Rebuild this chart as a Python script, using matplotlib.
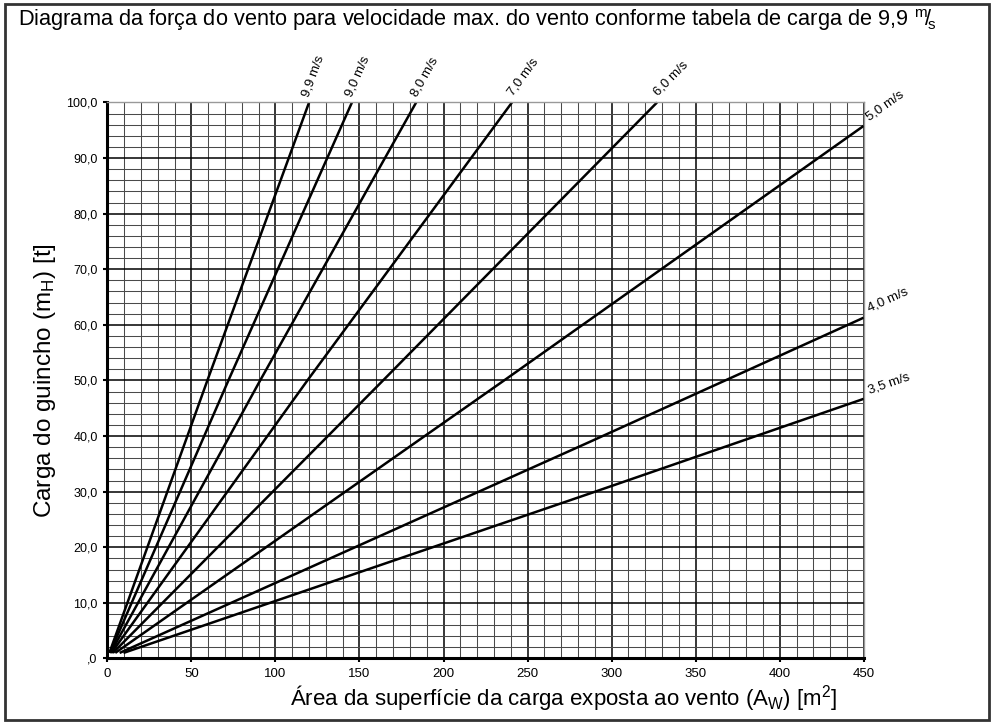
import math
import matplotlib
matplotlib.use('Agg')
import matplotlib.pyplot as plt
from matplotlib.ticker import MultipleLocator, FuncFormatter
from matplotlib.patches import Rectangle

FONTE = ['Liberation Sans', 'DejaVu Sans']

velocidades = ['9,9 m/s', '9,0 m/s', '8,0 m/s', '7,0 m/s', '6,0 m/s', '5,0 m/s', '4,0 m/s', '3,5 m/s']
area_99 = [1.2, 59.5, 120.0]
carga_99 = [1.0, 50.0, 100.0]
area_90 = [1.5, 72.0, 145.5]
carga_90 = [1.0, 50.0, 100.0]
area_80 = [1.9, 90.9, 183.7]
carga_80 = [1.0, 50.0, 100.0]
area_70 = [2.4, 119.0, 240.7]
carga_70 = [1.0, 50.0, 100.0]
area_60 = [3.3, 164.0, 327.0]
carga_60 = [1.0, 50.0, 100.0]
area_50 = [4.7, 236.0, 450.0]
carga_50 = [1.0, 50.0, 95.8]
area_40 = [7.3, 287.3, 450.0]
carga_40 = [1.0, 39.0, 61.3]
area_35 = [9.6, 287.3, 450.0]
carga_35 = [1.0, 29.7, 46.7]

curvas = [(area_99, carga_99), (area_90, carga_90), (area_80, carga_80), (area_70, carga_70),
          (area_60, carga_60), (area_50, carga_50), (area_40, carga_40), (area_35, carga_35)]

plt.rcParams['font.family'] = FONTE
plt.rcParams['mathtext.fontset'] = 'custom'
plt.rcParams['mathtext.rm'] = 'Liberation Sans'
plt.rcParams['mathtext.it'] = 'Liberation Sans:italic'

fig = plt.figure(figsize=(9.94, 7.24), dpi=100)
ax = fig.add_axes([0.108, 0.0905, 0.761, 0.768])

ax.set_xlim(0, 450)
ax.set_ylim(0, 100)

# grade
ax.xaxis.set_major_locator(MultipleLocator(50))
ax.xaxis.set_minor_locator(MultipleLocator(10))
ax.yaxis.set_major_locator(MultipleLocator(10))
ax.yaxis.set_minor_locator(MultipleLocator(2))
ax.grid(True, which='minor', color='#4a4a4a', lw=0.75)
ax.grid(True, which='major', color='black', lw=1.1)
ax.set_axisbelow(True)
ax.tick_params(which='minor', length=0)
ax.tick_params(which='major', length=3, width=1.5, direction='out', pad=4)

for s in ['top', 'right']:
    ax.spines[s].set_color('#999999')
    ax.spines[s].set_linewidth(1)
for s in ['left', 'bottom']:
    ax.spines[s].set_linewidth(2.2)

ax.yaxis.set_major_formatter(FuncFormatter(lambda v, p: ',0' if v == 0 else ('%.1f' % v).replace('.', ',')))
ax.tick_params(axis='y', labelsize=9)
ax.tick_params(axis='x', labelsize=9.5)

for (xs, ys) in curvas:
    ax.plot(xs, ys, color='black', lw=1.8, solid_capstyle='butt', clip_on=False)

# rotulos das curvas, alinhados com a direcao de cada curva
fig.canvas.draw()
for nome, (xs, ys) in zip(velocidades, curvas):
    p0 = ax.transData.transform((xs[-2], ys[-2]))
    p1 = ax.transData.transform((xs[-1], ys[-1]))
    ang = math.degrees(math.atan2(p1[1] - p0[1], p1[0] - p0[0]))
    if ys[-1] >= 100:
        off = (2, 3)
    else:
        off = (5, 2)
    ax.annotate(nome, (xs[-1], ys[-1]), xytext=off, textcoords='offset points',
                rotation=ang, rotation_mode='anchor', ha='left', va='bottom',
                fontsize=9.5, annotation_clip=False)

ax.set_ylabel('Carga do guincho (m$_\\mathrm{H}$) [t]', fontsize=17.5, labelpad=6)
ax.set_xlabel('Área da superfície da carga exposta ao vento (A$_\\mathrm{W}$) [m$^\\mathrm{2}$]',
              fontsize=16, labelpad=5)
ax.xaxis.set_label_coords(0.603, -0.045)

fig.text(0.018, 0.972, 'Diagrama da força do vento para velocidade max. do vento conforme tabela de carga de 9,9 $^\\mathrm{m}\\!/\\!_\\mathrm{s}$',
         fontsize=15.7, ha='left', va='center')

fig.patches.append(Rectangle((0.005, 0.005), 0.99, 0.99, transform=fig.transFigure,
                             fill=False, edgecolor='#333333', lw=2))

fig.savefig('out.png', dpi=100)
